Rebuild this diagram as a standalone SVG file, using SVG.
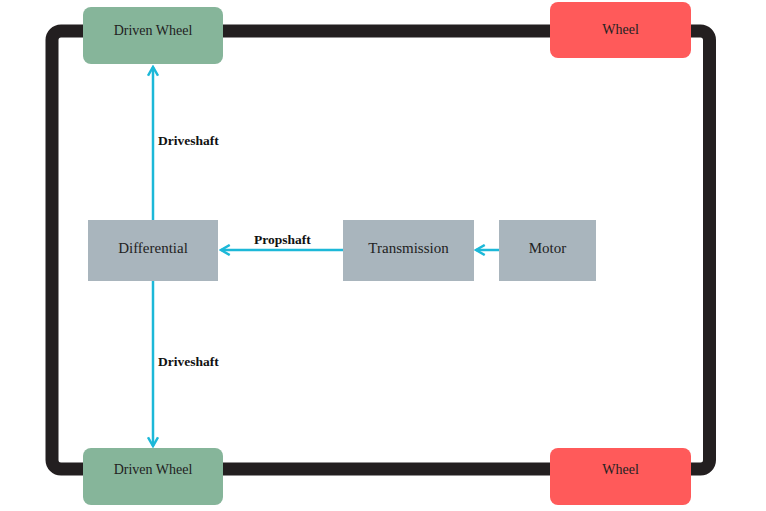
<svg xmlns="http://www.w3.org/2000/svg" width="766" height="511" viewBox="0 0 766 511">
<style>
.lbl{font-family:"Liberation Serif","Times New Roman",serif;font-size:14px;fill:#222;text-anchor:middle}
.big{font-size:15px}
.edge{font-family:"Liberation Serif","Times New Roman",serif;font-size:13.5px;font-weight:bold;fill:#111}
.conn{stroke:#1cb8d8;stroke-width:2.5;fill:none}
.drv{fill:#86b59a}
.whl{fill:#ff5a5a}
.unit{fill:#a9b5bd}
</style>
<defs>
<marker id="ah" viewBox="0 0 10 10" refX="8" refY="5" markerWidth="5" markerHeight="5" orient="auto" markerUnits="strokeWidth">
<polyline points="1,1 8,5 1,9" fill="none" stroke="#1cb8d8" stroke-width="2"/>
</marker>
</defs>
<rect width="766" height="511" fill="#fff"/>
<rect id="frame" x="52" y="31" width="657.5" height="438" rx="9" fill="none" stroke="#231f20" stroke-width="13"/>
<g id="connectors">
<line class="conn" x1="153" y1="220" x2="153" y2="67" marker-end="url(#ah)"/>
<line class="conn" x1="153" y1="281" x2="153" y2="446" marker-end="url(#ah)"/>
<line class="conn" x1="343" y1="250" x2="221" y2="250" marker-end="url(#ah)"/>
<line class="conn" x1="499" y1="250" x2="476" y2="250" marker-end="url(#ah)"/>
<text class="edge" x="158" y="145">Driveshaft</text>
<text class="edge" x="158" y="366">Driveshaft</text>
<text class="edge" x="254" y="244">Propshaft</text>
</g>
<g id="driven-wheel-top"><rect class="drv" x="83" y="7" width="140" height="57" rx="8"/><text class="lbl" x="153" y="35">Driven Wheel</text></g>
<g id="wheel-top"><rect class="whl" x="550" y="2" width="141" height="56" rx="8"/><text class="lbl" x="620.5" y="34">Wheel</text></g>
<g id="differential"><rect class="unit" x="88" y="220" width="130" height="61"/><text class="lbl big" x="153" y="253">Differential</text></g>
<g id="transmission"><rect class="unit" x="343" y="220" width="131" height="61"/><text class="lbl big" x="408.5" y="253">Transmission</text></g>
<g id="motor"><rect class="unit" x="499" y="220" width="97" height="61"/><text class="lbl big" x="547.5" y="253">Motor</text></g>
<g id="driven-wheel-bottom"><rect class="drv" x="83" y="448" width="140" height="57" rx="8"/><text class="lbl" x="153" y="474">Driven Wheel</text></g>
<g id="wheel-bottom"><rect class="whl" x="550" y="448" width="141" height="57" rx="8"/><text class="lbl" x="620.5" y="474">Wheel</text></g>
</svg>
